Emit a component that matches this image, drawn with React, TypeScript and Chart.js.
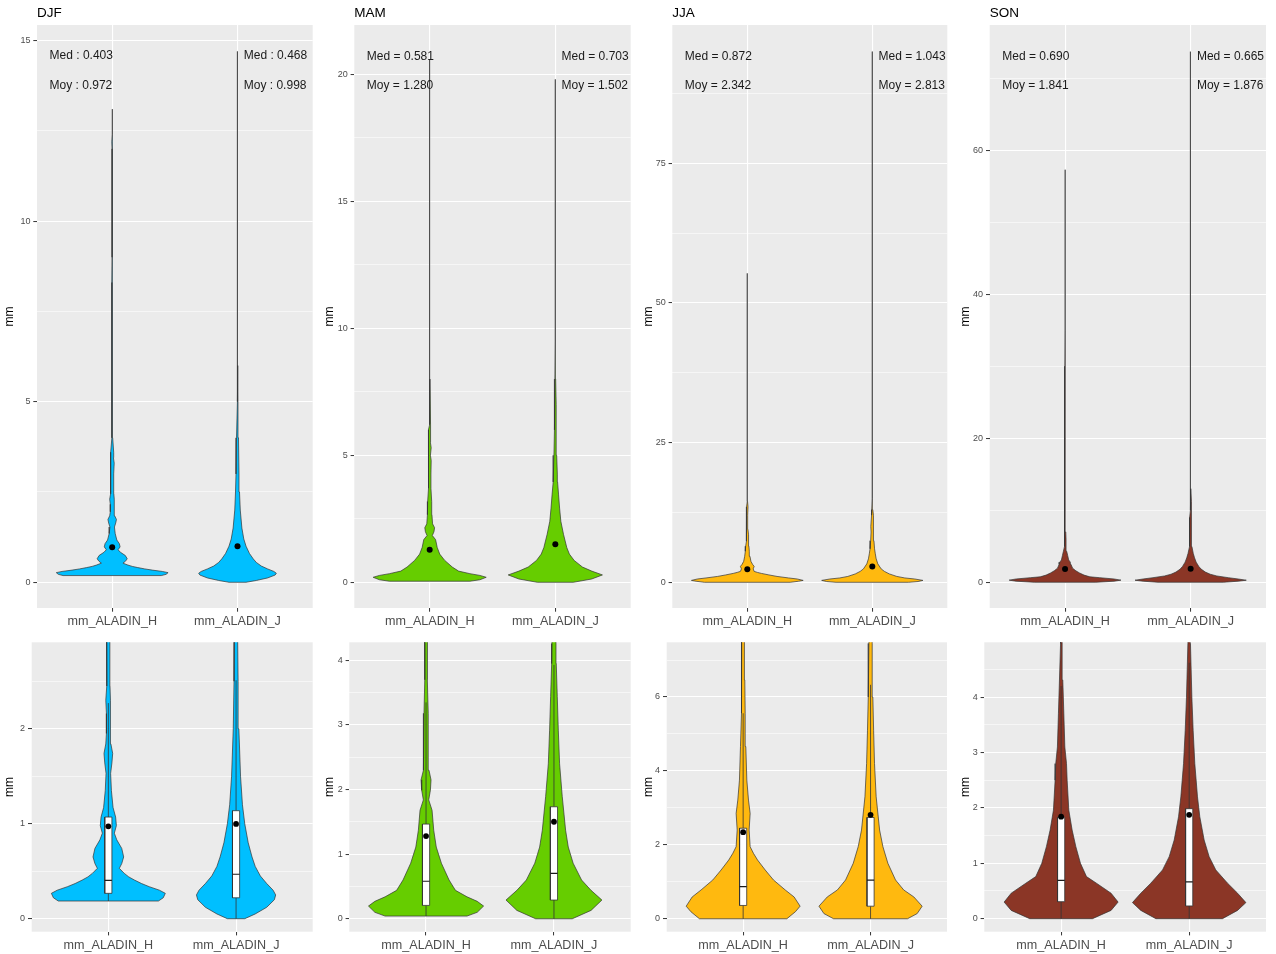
import React, { useEffect, useRef } from 'react';
import { Chart, registerables } from 'chart.js';

Chart.register(...registerables);

const FONT = "'Liberation Sans', Arial, sans-serif";

// ---------- data ----------
const seasons = ['DJF', 'MAM', 'JJA', 'SON'];
const categories = ['mm_ALADIN_H', 'mm_ALADIN_J'];
const fillColors = ['#00BFFF', '#66CD00', '#FFB90F', '#8B3626'];
const labelSep = [':', '=', '=', '='];

// violin profiles: precipitation value (mm) and half-width (x units)
const djfH_y = [0.186, 0.22, 0.267, 0.3, 0.337, 0.37, 0.407, 0.44, 0.477, 0.53, 0.58, 0.65, 0.74, 0.83, 0.9, 0.98, 1.07, 1.17, 1.35, 1.53, 1.64, 1.74, 1.84, 1.95, 2.16, 2.3, 2.45, 2.69, 3.0, 3.3, 3.45, 3.6, 4.0, 5.0, 8.2, 8.3, 9.0, 12.0, 12.2, 12.4, 13.1];
const djfH_w = [0.392, 0.43, 0.446, 0.4, 0.32, 0.26, 0.204, 0.16, 0.125, 0.086, 0.105, 0.12, 0.105, 0.066, 0.047, 0.063, 0.057, 0.037, 0.024, 0.018, 0.028, 0.034, 0.02, 0.015, 0.015, 0.02, 0.013, 0.012, 0.012, 0.016, 0.01, 0.012, 0.004, 0.002, 0.002, 0.003, 0.001, 0.001, 0.003, 0.001, 0];
const djfJ_y = [0, 0.05, 0.12, 0.2, 0.25, 0.3, 0.37, 0.45, 0.55, 0.65, 0.8, 1.0, 1.2, 1.5, 2.0, 2.5, 3.0, 4.0, 5.0, 6.0, 6.3, 8.0, 14.7];
const djfJ_w = [0.068, 0.15, 0.24, 0.3, 0.31, 0.29, 0.24, 0.19, 0.15, 0.125, 0.095, 0.068, 0.05, 0.035, 0.022, 0.016, 0.012, 0.008, 0.004, 0.002, 0.0015, 0.0005, 0];
const mamH_y = [0.042, 0.1, 0.197, 0.27, 0.34, 0.44, 0.6, 0.86, 1.11, 1.37, 1.68, 1.84, 1.99, 2.15, 2.3, 2.66, 3.18, 3.7, 4.26, 4.8, 5.0, 5.3, 5.5, 6.0, 6.2, 8.0, 10.0, 14.2, 15.0, 20.6];
const mamH_w = [0.32, 0.4, 0.45, 0.4, 0.32, 0.23, 0.18, 0.12, 0.08, 0.06, 0.047, 0.021, 0.034, 0.039, 0.023, 0.018, 0.016, 0.01, 0.01, 0.012, 0.006, 0.012, 0.006, 0.01, 0.004, 0.002, 0.0015, 0.001, 0.0003, 0];
const mamJ_y = [0, 0.13, 0.29, 0.44, 0.6, 0.86, 1.11, 1.37, 1.89, 2.4, 2.92, 3.44, 3.95, 4.26, 5.0, 6.0, 7.0, 8.0, 9.5, 10.8, 12.0, 19.8];
const mamJ_w = [0.143, 0.29, 0.375, 0.29, 0.216, 0.15, 0.112, 0.091, 0.065, 0.044, 0.034, 0.026, 0.018, 0.016, 0.011, 0.008, 0.006, 0.003, 0.002, 0.0015, 0.0004, 0];
const jjaH_y = [0, 0.19, 0.34, 0.59, 0.78, 1.05, 1.32, 1.59, 1.77, 1.95, 2.4, 2.85, 3.21, 3.75, 4.66, 5.56, 6.46, 7.36, 8.5, 9.5, 12.0, 13.5, 14.5, 18.0, 28.0, 32.0, 33.0, 55.3];
const jjaH_w = [0.343, 0.41, 0.447, 0.4, 0.33, 0.238, 0.173, 0.113, 0.081, 0.055, 0.047, 0.055, 0.042, 0.029, 0.021, 0.016, 0.013, 0.01, 0.01, 0.005, 0.003, 0.006, 0.002, 0.001, 0.0015, 0.002, 0.0005, 0];
const jjaJ_y = [0, 0.14, 0.34, 0.59, 0.78, 1.05, 1.5, 1.95, 2.4, 3.3, 4.2, 5.1, 6.0, 7.45, 9.0, 10.0, 12.0, 13.0, 15.0, 23.0, 25.0, 95.0];
const jjaJ_w = [0.29, 0.366, 0.405, 0.34, 0.26, 0.196, 0.136, 0.097, 0.071, 0.044, 0.031, 0.024, 0.018, 0.013, 0.01, 0.012, 0.006, 0.004, 0.002, 0.0015, 0.0005, 0];
const sonH_y = [0, 0.15, 0.3, 0.46, 0.64, 0.76, 1.0, 1.3, 1.6, 1.96, 2.5, 2.8, 3.1, 3.71, 4.31, 4.97, 6.0, 7.0, 7.5, 10.0, 15.0, 24.0, 30.0, 35.0, 57.3];
const sonH_w = [0.245, 0.39, 0.445, 0.39, 0.276, 0.198, 0.151, 0.115, 0.086, 0.06, 0.047, 0.042, 0.029, 0.021, 0.013, 0.008, 0.008, 0.006, 0.003, 0.002, 0.0015, 0.002, 0.001, 0.0003, 0];
const sonJ_y = [0, 0.15, 0.29, 0.46, 0.64, 0.88, 1.12, 1.42, 1.84, 2.2, 2.8, 3.4, 4.0, 4.97, 6.0, 8.0, 9.0, 10.0, 11.2, 13.0, 73.7];
const sonJ_w = [0.26, 0.378, 0.443, 0.378, 0.3, 0.208, 0.156, 0.117, 0.083, 0.065, 0.044, 0.031, 0.021, 0.01, 0.009, 0.007, 0.008, 0.005, 0.003, 0.001, 0];

// summary statistics per season (H, J)
const medH = [0.403, 0.581, 0.872, 0.690];
const medJ = [0.468, 0.703, 1.043, 0.665];
const meanH = [0.972, 1.280, 2.342, 1.841];
const meanJ = [0.998, 1.502, 2.813, 1.876];
const q1H = [0.267, 0.207, 0.36, 0.307];
const q1J = [0.22, 0.29, 0.34, 0.23];
const q3H = [1.07, 1.466, 2.45, 1.83];
const q3J = [1.137, 1.734, 2.74, 1.986];
const whiskerHiH = [2.27, 3.35, 5.56, 4.2];
const whiskerHiJ = [2.51, 3.93, 6.33, 4.62];

// axes
const topYMin = [-0.712, -1.012, -4.6, -3.57];
const topYMax = [15.43, 21.94, 99.75, 77.4];
const topYTicks = [[0, 5, 10, 15], [0, 5, 10, 15, 20], [0, 25, 50, 75], [0, 20, 40, 60]];
const botYMin = [-0.137, -0.2, -0.35, -0.235];
const botYMax = [2.91, 4.28, 7.48, 4.99];
const botYTicks = [[0, 1, 2], [0, 1, 2, 3, 4], [0, 2, 4, 6], [0, 1, 2, 3, 4]];
const xTicks = [1, 2];

// annotation anchors (data units)
const annotX = [0.5, 2.05];
const annotMedY = [14.57, 20.70, 94.15, 73.06];
const annotMoyY = [13.75, 19.54, 88.87, 68.96];

// ---------- layout (page pixels) ----------
const COL_LEFT = [0, 318, 636, 954];
const COL_RIGHT = [318, 636, 954, 1276];
const ROWS = [
  { top: 0, height: 630, plotT: 25, plotB: 608, plotL: [37, 354.3, 672.3, 989.7], plotR: [312.7, 630.7, 947.3, 1266] },
  { top: 630, height: 324, plotT: 642.3, plotB: 931.7, plotL: [31.7, 349.3, 666.7, 984.3], plotR: [312.7, 630.7, 947, 1266] },
];
const MM_X = [10, 330, 649, 966];

const profiles = [
  [[djfH_y, djfH_w], [djfJ_y, djfJ_w]],
  [[mamH_y, mamH_w], [mamJ_y, mamJ_w]],
  [[jjaH_y, jjaH_w], [jjaJ_y, jjaJ_w]],
  [[sonH_y, sonH_w], [sonJ_y, sonJ_w]],
];

function violinPoints(c: number, ys: number[], ws: number[]) {
  const pts: { x: number; y: number }[] = [];
  for (let i = 0; i < ys.length; i++) pts.push({ x: c + ws[i], y: ys[i] });
  for (let i = ys.length - 1; i >= 0; i--) pts.push({ x: c - ws[i], y: ys[i] });
  pts.push({ x: c + ws[0], y: ys[0] });
  return pts;
}

function minorTicks(major: number[], min: number, max: number) {
  const step = major[1] - major[0];
  const out: number[] = [];
  for (let v = major[0] - step / 2; v <= max; v += step) if (v >= min) out.push(v);
  return out;
}

function Panel({ s, row }: { s: number; row: number }) {
  const ref = useRef<HTMLCanvasElement>(null);
  const R = ROWS[row];
  const left = COL_LEFT[s];
  const width = COL_RIGHT[s] - COL_LEFT[s];

  useEffect(() => {
    const canvas = ref.current!;
    const yMin = row === 0 ? topYMin[s] : botYMin[s];
    const yMax = row === 0 ? topYMax[s] : botYMax[s];
    const majors = row === 0 ? topYTicks[s] : botYTicks[s];
    const minors = minorTicks(majors, yMin, yMax);
    const allTicks = [...majors, ...minors].sort((a, b) => a - b);
    const isMajor = (v: number) => majors.some((m) => Math.abs(m - v) < 1e-9);
    const yW = R.plotL[s] - left;
    const xH = R.top + R.height - R.plotB;
    const padTop = R.plotT - R.top;
    const padRight = left + width - R.plotR[s];
    const color = fillColors[s];

    const datasets: any[] = [];
    // mean dots (top-most)
    datasets.push({
      data: [{ x: 1, y: meanH[s] }, { x: 2, y: meanJ[s] }],
      showLine: false,
      pointRadius: row === 0 ? 3 : 2.9,
      pointBackgroundColor: '#000000',
      pointBorderWidth: 0,
      order: 0,
    });
    const med = [medH[s], medJ[s]];
    const q1 = [q1H[s], q1J[s]];
    const q3 = [q3H[s], q3J[s]];
    const wHi = [whiskerHiH[s], whiskerHiJ[s]];
    const bw = 0.028;
    for (let k = 0; k < 2; k++) {
      const c = k + 1;
      const [ys, ws] = profiles[s][k];
      if (row === 1) {
        datasets.push({
          data: [{ x: c - bw, y: med[k] }, { x: c + bw, y: med[k] }],
          borderColor: '#1A1A1A', borderWidth: 1.2, pointRadius: 0, order: 1,
        });
        datasets.push({
          data: [
            { x: c - bw, y: q1[k] }, { x: c + bw, y: q1[k] }, { x: c + bw, y: q3[k] },
            { x: c - bw, y: q3[k] }, { x: c - bw, y: q1[k] },
          ],
          fill: 'shape', backgroundColor: '#FFFFFF', borderColor: '#333333', borderWidth: 0.8,
          pointRadius: 0, order: 2,
        });
        datasets.push({
          data: [{ x: c, y: ys[0] }, { x: c, y: q1[k] }],
          borderColor: '#333333', borderWidth: 0.8, pointRadius: 0, order: 3,
        });
        datasets.push({
          data: [{ x: c, y: q3[k] }, { x: c, y: wHi[k] }],
          borderColor: '#333333', borderWidth: 0.8, pointRadius: 0, order: 3,
        });
      }
      datasets.push({
        data: violinPoints(c, ys, ws),
        fill: 'shape',
        backgroundColor: color,
        borderColor: '#333333',
        borderWidth: 0.7,
        borderJoinStyle: 'round',
        pointRadius: 0,
        order: 10,
      });
    }

    const plugin = {
      id: 'ggdecor',
      beforeDraw(chart: any) {
        const { ctx, chartArea: a } = chart;
        ctx.save();
        ctx.fillStyle = '#EBEBEB';
        ctx.fillRect(a.left, a.top, a.right - a.left, a.bottom - a.top);
        ctx.restore();
      },
      afterDraw(chart: any) {
        const { ctx, chartArea: a } = chart;
        ctx.save();
        ctx.translate(MM_X[s] - left, (a.top + a.bottom) / 2);
        ctx.rotate(-Math.PI / 2);
        ctx.font = `12px ${FONT}`;
        ctx.fillStyle = '#000000';
        ctx.textAlign = 'center';
        ctx.textBaseline = 'middle';
        ctx.fillText('mm', 0, 0);
        ctx.restore();
        if (row === 0) {
          ctx.save();
          ctx.font = `13.5px ${FONT}`;
          ctx.fillStyle = '#000000';
          ctx.textAlign = 'left';
          ctx.textBaseline = 'middle';
          ctx.fillText(seasons[s], a.left, a.top - 12.2);
          ctx.font = `12px ${FONT}`;
          ctx.fillStyle = '#1A1A1A';
          const xs = chart.scales.x;
          const ysc = chart.scales.y;
          const meds = [medH[s], medJ[s]];
          const means = [meanH[s], meanJ[s]];
          for (let k = 0; k < 2; k++) {
            const px = xs.getPixelForValue(annotX[k]);
            ctx.fillText(`Med ${labelSep[s]} ${meds[k].toFixed(3)}`, px, ysc.getPixelForValue(annotMedY[s]));
            ctx.fillText(`Moy ${labelSep[s]} ${means[k].toFixed(3)}`, px, ysc.getPixelForValue(annotMoyY[s]));
          }
          ctx.restore();
        }
      },
    };

    const chart = new Chart(canvas, {
      type: 'line',
      data: { datasets },
      plugins: [plugin],
      options: {
        responsive: false,
        maintainAspectRatio: false,
        animation: false,
        devicePixelRatio: 1,
        events: [],
        layout: { padding: { left: 0, top: padTop, right: padRight, bottom: 0 } },
        elements: { line: { tension: 0 } },
        plugins: { legend: { display: false }, tooltip: { enabled: false }, title: { display: false } },
        scales: {
          x: {
            type: 'linear',
            min: 0.4,
            max: 2.6,
            bounds: 'data',
            afterBuildTicks: (axis: any) => { axis.ticks = xTicks.map((v) => ({ value: v })); },
            afterFit: (scale: any) => { scale.height = xH; },
            border: { display: false },
            grid: { color: '#FFFFFF', lineWidth: 1.1, drawTicks: true, tickLength: 3.7, tickColor: '#333333', tickWidth: 1 },
            ticks: {
              autoSkip: false,
              maxRotation: 0,
              padding: 2.5,
              color: '#4D4D4D',
              font: { family: FONT, size: 12.6 },
              callback: (v: any) => categories[Math.round(Number(v)) - 1] ?? '',
            },
          },
          y: {
            type: 'linear',
            min: yMin,
            max: yMax,
            bounds: 'data',
            afterBuildTicks: (axis: any) => { axis.ticks = allTicks.map((v) => ({ value: v })); },
            afterFit: (scale: any) => { scale.width = yW; },
            border: { display: false },
            grid: {
              color: '#FFFFFF',
              lineWidth: (c: any) => (c.tick && isMajor(c.tick.value) ? 1.1 : 0.55),
              drawTicks: true,
              tickLength: 3.7,
              tickWidth: 1,
              tickColor: (c: any) => (c.tick && isMajor(c.tick.value) ? '#333333' : 'rgba(0,0,0,0)'),
            },
            ticks: {
              autoSkip: false,
              padding: 2.9,
              color: '#4D4D4D',
              font: { family: FONT, size: 9 },
              callback: (v: any) => (isMajor(Number(v)) ? String(v) : ''),
            },
          },
        },
      } as any,
    });
    return () => chart.destroy();
  }, [s, row]);

  return (
    <canvas
      ref={ref}
      width={width}
      height={R.height}
      style={{ position: 'absolute', left, top: R.top, width, height: R.height }}
    />
  );
}

export default function App() {
  return (
    <div style={{ position: 'absolute', left: 0, top: 0, width: 1276, height: 954, background: '#FFFFFF', overflow: 'hidden' }}>
      {[0, 1].map((row) => [0, 1, 2, 3].map((s) => <Panel key={`${row}-${s}`} s={s} row={row} />))}
    </div>
  );
}
